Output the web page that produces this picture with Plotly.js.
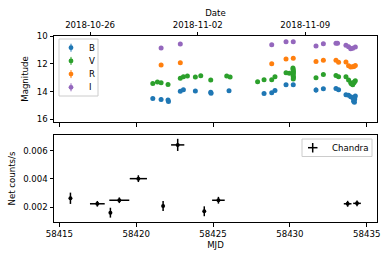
<!DOCTYPE html>
<html><head><meta charset="utf-8">
<script src="https://cdn.plot.ly/plotly-3.0.1.min.js"></script>
<style>html,body{margin:0;padding:0;background:#fff}#c{width:390px;height:260px}</style>
</head><body><div id="c"></div>
<script>
// ---- data ----
const bMJD = [58421.08,58421.62,58422.07,58422.10,58422.87,58423.07,58423.85,58424.85,58424.87,58426.04,58428.32,58428.82,58429.03,58429.75,58430.22,58431.70,58432.18,58433.00,58433.17,58433.65,58433.82,58433.96,58434.09,58434.15,58434.17,58434.20,58434.22,58434.26];
const bMag = [14.50,14.57,14.62,14.72,13.99,13.88,13.97,14.05,14.12,13.95,14.14,14.09,13.92,13.52,13.52,13.90,13.81,13.78,13.88,14.24,14.28,14.38,14.45,14.70,14.62,14.77,14.55,14.33];
const bErr = [0.05,0.15,0.10,0.05,0.05,0.05,0.05,0.05,0.05,0.05,0.05,0.05,0.05,0.05,0.05,0.20,0.05,0.05,0.05,0.05,0.05,0.05,0.05,0.05,0.05,0.05,0.05,0.05];

const vMJD = [58421.08,58421.38,58421.62,58422.07,58422.87,58423.07,58423.33,58423.85,58424.20,58424.85,58425.89,58426.11,58427.90,58428.32,58428.82,58429.03,58429.75,58429.96,58430.20,58430.21,58430.22,58430.23,58430.22,58430.21,58430.22,58430.23,58430.22,58431.70,58432.18,58433.00,58433.17,58433.65,58433.82,58433.96,58434.00,58434.09,58434.17,58434.20,58434.26];
const vMag = [13.42,13.32,13.37,13.49,13.05,12.94,12.89,12.96,12.87,13.18,12.89,12.96,13.30,13.16,13.16,12.94,12.65,12.69,12.30,12.40,12.50,12.60,12.70,12.80,12.90,13.00,13.10,13.01,12.77,12.84,12.94,12.94,13.18,13.37,13.45,13.52,13.37,13.30,13.23];

const rMJD = [58421.62,58422.87,58428.82,58429.75,58430.22,58431.70,58432.18,58433.00,58433.17,58433.65,58433.82,58433.96,58434.09,58434.17,58434.26];
const rMag = [12.09,11.93,12.00,11.66,11.61,11.83,11.75,11.75,11.90,11.88,12.14,12.24,12.22,12.20,12.12];

const iMJD = [58421.62,58422.87,58428.82,58429.75,58430.22,58431.70,58432.18,58433.00,58433.10,58433.65,58433.82,58433.96,58434.09,58434.26];
const iMag = [10.87,10.58,10.63,10.41,10.41,10.72,10.56,10.53,10.53,10.67,10.77,10.92,10.89,10.79];

const xMJD  = [58415.72,58417.47,58418.32,58418.90,58420.14,58421.75,58422.70,58424.43,58425.35,58433.76,58434.37];
const xRate = [0.00262,0.00223,0.00160,0.00248,0.00401,0.00207,0.00640,0.00170,0.00248,0.00223,0.00226];
const xErrX = [0,0.48,0,0.65,0.56,0,0.43,0,0.41,0.25,0.25];
const xErrY = [0.00040,0.00020,0.00035,0.00020,0.00024,0.00035,0.00043,0.00035,0.00024,0.00021,0.00021];

const bandNames  = ['B','V','R','I'];
const bandColors = ['#1f77b4','#2ca02c','#ff7f0e','#9467bd'];
const dateTicks = [58417, 58424, 58431];
const dateLabels = ['2018-10-26','2018-11-02','2018-11-09'];
// ---- end data ----

const FS = 8.6;
const font = {family:'DejaVu Sans', size:FS, color:'#000'};
function band(i, x, y, err){
  return {type:'scatter', mode:'markers', name:bandNames[i], x:x, y:y, xaxis:'x', yaxis:'y',
    marker:{color:bandColors[i], size:5},
    error_y:{type:'data', array: err || y.map(()=>0.05), color:bandColors[i], thickness:1, width:0},
    showlegend:false};
}
const traces = [
  band(0, bMJD, bMag, bErr),
  band(1, vMJD, vMag),
  band(2, rMJD, rMag),
  band(3, iMJD, iMag),
  {type:'scatter', mode:'markers', name:'Chandra', x:xMJD, y:xRate, xaxis:'x2', yaxis:'y2',
    marker:{color:'#000', size:4},
    error_x:{type:'data', array:xErrX, color:'#000', thickness:1.5, width:0},
    error_y:{type:'data', array:xErrY, color:'#000', thickness:1.5, width:0},
    showlegend:false},
  {type:'scatter', mode:'markers', x:[null], y:[null], xaxis:'x3', yaxis:'y', showlegend:false, hoverinfo:'skip'}
];

// plot area in pixels: l=54, r=377, top=36, bottom=222
const L=54, W=323, T=36, H=186;
const px = v => (v-L)/W, py = v => (T+H-v)/H;

const shapes = [], annotations = [];
// legend 1 frame
shapes.push({type:'rect', xref:'paper', yref:'paper', x0:px(59), x1:px(98), y0:py(96), y1:py(39),
  line:{color:'#cccccc', width:1}, fillcolor:'rgba(255,255,255,0.8)', layer:'above'});
bandNames.forEach((n,i)=>{
  const cy = 47.7 + i*13.2;
  shapes.push({type:'line', xref:'paper', yref:'paper', x0:px(71), x1:px(71), y0:py(cy-4), y1:py(cy+4),
    line:{color:bandColors[i], width:1}, layer:'above'});
  shapes.push({type:'circle', xref:'paper', yref:'paper', xsizemode:'pixel', ysizemode:'pixel',
    xanchor:px(71), yanchor:py(cy), x0:-2.4, x1:2.4, y0:-2.4, y1:2.4,
    line:{width:0}, fillcolor:bandColors[i], layer:'above'});
  annotations.push({xref:'paper', yref:'paper', x:px(87), y:py(cy), xanchor:'left', yanchor:'middle',
    text:n, showarrow:false, font:font});
});
// legend 2 frame
shapes.push({type:'rect', xref:'paper', yref:'paper', x0:px(302), x1:px(372), y0:py(156.5), y1:py(139),
  line:{color:'#cccccc', width:1}, fillcolor:'rgba(255,255,255,0.8)', layer:'above'});
shapes.push({type:'line', xref:'paper', yref:'paper', x0:px(308), x1:px(317.5), y0:py(147.7), y1:py(147.7), line:{color:'#000', width:1.5}, layer:'above'});
shapes.push({type:'line', xref:'paper', yref:'paper', x0:px(312.7), x1:px(312.7), y0:py(143), y1:py(152.5), line:{color:'#000', width:1.5}, layer:'above'});
annotations.push({xref:'paper', yref:'paper', x:px(330), y:py(147.7), xanchor:'left', yanchor:'middle',
  text:'Chandra', showarrow:false, font:font});

const xr = [58414.65, 58435.67];
const axCommon = {showline:true, linecolor:'#000', linewidth:1, ticks:'outside', ticklen:3.5, tickwidth:1, tickcolor:'#000', showgrid:false, zeroline:false, tickfont:font};
const layout = {
  width:390, height:260, margin:{l:L, r:390-L-W, t:T, b:260-T-H},
  paper_bgcolor:'#fff', plot_bgcolor:'#fff', font:font,
  xaxis: Object.assign({}, axCommon, {range:xr, domain:[0,1], anchor:'y', mirror:true, showticklabels:false, dtick:5, tick0:58415}),
  yaxis: Object.assign({}, axCommon, {range:[16.2,10], domain:[0.5376,1], anchor:'x', mirror:true, dtick:2, tick0:10,
    title:{text:'Magnitude', font:font, standoff:6}}),
  xaxis3: Object.assign({}, axCommon, {range:xr, overlaying:'x', side:'top', anchor:'y', showline:false,
    tickmode:'array', tickvals:dateTicks, ticktext:dateLabels, title:{text:'Date', font:font, standoff:2}}),
  xaxis2: Object.assign({}, axCommon, {range:xr, domain:[0,1], anchor:'y2', mirror:true, dtick:5, tick0:58415, tickformat:'d',
    title:{text:'MJD', font:font, standoff:4}}),
  yaxis2: Object.assign({}, axCommon, {range:[0.00094,0.0071], domain:[0,0.4677], anchor:'x2', mirror:true,
    tickmode:'array', tickvals:[0.002,0.004,0.006], ticktext:['0.002','0.004','0.006'],
    title:{text:'Net counts/s', font:font, standoff:6}}),
  shapes:shapes, annotations:annotations,
  showlegend:false
};
Plotly.newPlot('c', traces, layout, {staticPlot:true, displayModeBar:false});
</script></body></html>
